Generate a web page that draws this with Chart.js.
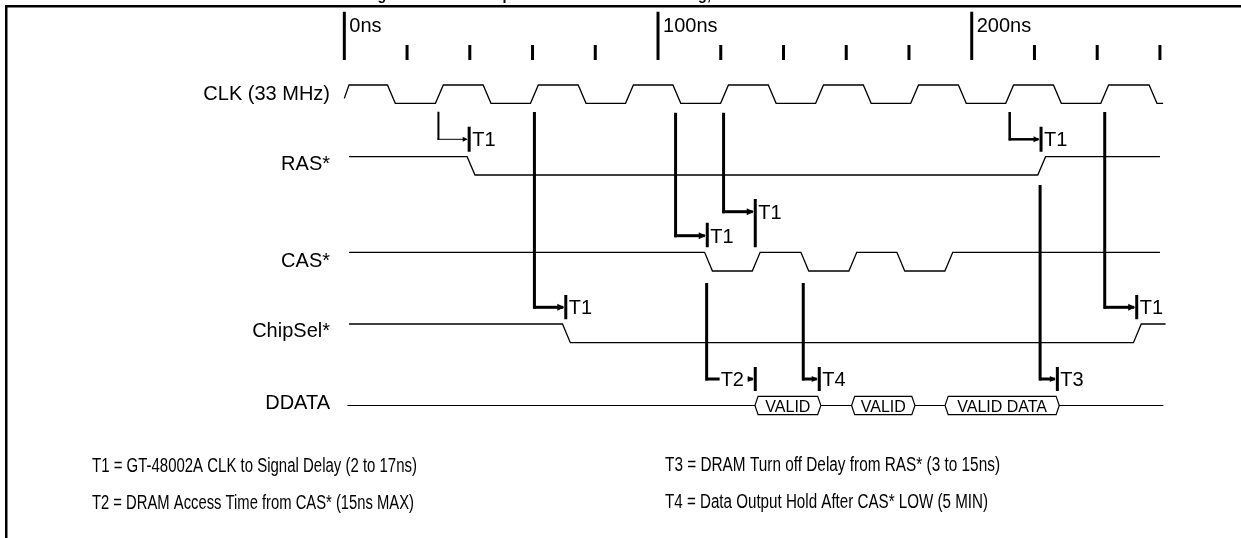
<!DOCTYPE html>
<html><head><meta charset="utf-8">
<script src="https://cdn.jsdelivr.net/npm/chart.js@4.4.1/dist/chart.umd.min.js"></script>
<style>html,body{margin:0;padding:0;background:#fff;overflow:hidden}</style>
</head><body>
<canvas id="c" width="1241" height="538"></canvas>
<script>
// ---------------- data (times in ns) ----------------
const tickMajor = [0, 100, 200];
const tickLabels = ['0ns', '100ns', '200ns'];
const tickMinor = [20, 40, 60, 80, 120, 140, 160, 180, 220, 240, 260];

const signalNames = ['CLK (33 MHz)', 'RAS*', 'CAS*', 'ChipSel*', 'DDATA'];

// CLK (edge mid-times)
const clkLead = [[0, 0.27], [1.5, 1]];
const clkFall = [15.0, 45.5, 75.8, 106.0, 136.4, 166.7, 197.0, 227.3, 257.8];
const clkRise = [30.3, 60.6, 90.9, 121.2, 151.5, 181.8, 212.1, 242.4];
const clkEnd = 261;

// RAS*
const rasStart = 1.5, rasFall = [40.4], rasRise = [222.3], rasEnd = 260;
// CAS*
const casStart = 1.5, casFall = [116.1, 146.8, 177.4], casRise = [131.3, 162.1, 192.7], casEnd = 260;
// ChipSel*
const csStart = 1.5, csFall = [70.8], csRise = [252.8], csEnd = 261.8;
// DDATA
const ddStart = 1.0, ddEnd = 261.1;
const boxStart = [130.9, 161.7, 191.5];
const boxEnd = [151.9, 181.9, 227.9];
const boxLabels = ['VALID', 'VALID', 'VALID DATA'];

// timing annotations
const annLabels = ['T1', 'T1', 'T1', 'T1', 'T1', 'T1', 'T2', 'T4', 'T3'];
const annFrom = [30.0, 60.6, 105.6, 120.9, 212.1, 242.4, 115.5, 146.3, 221.8];
const annTo = [39.8, 70.6, 115.7, 131.0, 222.1, 252.6, 131.0, 151.4, 227.3];

const notes = [
  'T1 = GT-48002A CLK to Signal Delay (2 to 17ns)',
  'T2 = DRAM Access Time from CAS* (15ns MAX)',
  'T3 = DRAM Turn off Delay from RAS* (3 to 15ns)',
  'T4 = Data Output Hold After CAS* LOW (5 MIN)'
];
const titleText = 'DRAM Read Timing Waveform Example - Burst Mode Read Timing, 33 MHz';

// ---------------- layout / style ----------------
const EDGE = 2.5;       // ns transition
const BOXSLOPE = 1.0;   // ns
const rows = [
  {hi: 85, lo: 103.3, label: 100.3},
  {hi: 156.7, lo: 175, label: 170},
  {hi: 252.3, lo: 271, label: 266.5},
  {hi: 324, lo: 342.7, label: 336.5},
  {mid: 405.5, half: 9.2, label: 409}
];
const annLayout = [
  {top: 111.7, arr: 139.3, b0: 126.7, b1: 151.7, wv: 2, wh: 1, head: 5},
  {top: 112, arr: 307.3, b0: 295, b1: 319.3, wv: 3, wh: 3, head: 7},
  {top: 112.7, arr: 235.7, b0: 222.7, b1: 247.3, wv: 3, wh: 3, head: 7},
  {top: 112.7, arr: 211.7, b0: 199, b1: 247.3, wv: 3, wh: 3, head: 7},
  {top: 112, arr: 139.3, b0: 126.7, b1: 151.7, wv: 2.5, wh: 2.5, head: 6},
  {top: 112, arr: 307.3, b0: 295, b1: 319.3, wv: 3, wh: 3, head: 7},
  {top: 283, arr: 379, b0: 367, b1: 391, wv: 3, wh: 3, head: 6, inline: true},
  {top: 283, arr: 379, b0: 367, b1: 391, wv: 3, wh: 3, head: 6},
  {top: 185, arr: 379, b0: 367, b1: 391, wv: 3, wh: 3, head: 6}
];
const noteLayout = [
  {x: 92, y: 471.5, w: 325}, {x: 92, y: 508.5, w: 322},
  {x: 665, y: 470.5, w: 335}, {x: 665, y: 507.5, w: 323}
];
const FONT = "'Liberation Sans', Arial, sans-serif";

// ---------------- builders ----------------
function lv(row, l) { return row.lo - l * (row.lo - row.hi); }
function mergeEdges(falls, rises) {
  return falls.map(t => [t, 0]).concat(rises.map(t => [t, 1])).sort((a, b) => a[0] - b[0]);
}
function wave(row, lead, edges, endT) {
  const pts = lead.map(([t, l]) => ({x: t, y: lv(row, l)}));
  let cur = lead[lead.length - 1][1];
  edges.forEach(([m, nl]) => {
    pts.push({x: m - EDGE / 2, y: lv(row, cur)});
    pts.push({x: m + EDGE / 2, y: lv(row, nl)});
    cur = nl;
  });
  pts.push({x: endT, y: lv(row, cur)});
  return pts;
}
function segs(list) { // list of [x0,y0,x1,y1]
  const out = [];
  list.forEach(s => { out.push({x: s[0], y: s[1]}, {x: s[2], y: s[3]}, {x: s[2], y: null}); });
  return out;
}
function lineDs(data, w) {
  return {data, showLine: true, borderColor: '#000', borderWidth: w, pointRadius: 0,
    tension: 0, spanGaps: false, borderCapStyle: 'butt', borderJoinStyle: 'miter', fill: false};
}

const datasets = [];
datasets.push(lineDs(segs(tickMajor.map(t => [t, 11.7, t, 60])), 3));
datasets.push(lineDs(segs(tickMinor.map(t => [t, 45, t, 60])), 3));
datasets.push(lineDs(wave(rows[0], clkLead, mergeEdges(clkFall, clkRise), clkEnd), 1.3));
datasets.push(lineDs(wave(rows[1], [[rasStart, 1]], mergeEdges(rasFall, rasRise), rasEnd), 1.3));
datasets.push(lineDs(wave(rows[2], [[casStart, 1]], mergeEdges(casFall, casRise), casEnd), 1.3));
datasets.push(lineDs(wave(rows[3], [[csStart, 1]], mergeEdges(csFall, csRise), csEnd), 1.3));
// DDATA
(function () {
  const r = rows[4], top = r.mid - r.half, bot = r.mid + r.half;
  const a = [{x: ddStart, y: r.mid}];
  const b = [];
  boxStart.forEach((s, i) => {
    const e = boxEnd[i];
    a.push({x: s, y: r.mid}, {x: s + BOXSLOPE, y: top}, {x: e - BOXSLOPE, y: top}, {x: e, y: r.mid});
    b.push({x: s, y: r.mid}, {x: s + BOXSLOPE, y: bot}, {x: e - BOXSLOPE, y: bot}, {x: e, y: r.mid}, {x: e, y: null});
  });
  a.push({x: ddEnd, y: r.mid});
  datasets.push(lineDs(a, 1.2));
  datasets.push(lineDs(b, 1.2));
})();
// annotations
annFrom.forEach((f, i) => {
  const L = annLayout[i], t = annTo[i];
  datasets.push(lineDs([{x: f, y: L.top}, {x: f, y: L.arr + L.wh / 2}], L.wv));
  datasets.push(lineDs([{x: f - 0.3, y: L.arr}, {x: t - 0.8, y: L.arr}], L.wh));
  datasets.push(lineDs([{x: t, y: L.b0}, {x: t, y: L.b1}], 3));
});

const timingPlugin = {
  id: 'timing',
  beforeDraw(chart) {
    const ctx = chart.ctx;
    ctx.save(); ctx.fillStyle = '#fff'; ctx.fillRect(0, 0, chart.width, chart.height); ctx.restore();
  },
  afterDatasetsDraw(chart) {
    const ctx = chart.ctx, xs = chart.scales.x, ys = chart.scales.y;
    const X = v => xs.getPixelForValue(v), Y = v => ys.getPixelForValue(v);
    ctx.save();
    ctx.fillStyle = '#000';
    // frame
    ctx.fillRect(5, 5, chart.width - 5, 2.5);
    ctx.fillRect(5, 5, 2.5, chart.height - 5);
    // title (cut off above the frame; only descenders show)
    ctx.font = 'bold 16px ' + FONT;
    ctx.textAlign = 'left'; ctx.textBaseline = 'alphabetic';
    ctx.fillText(titleText, 252, 0.3, 513);
    // tick labels
    ctx.font = '20px ' + FONT;
    tickMajor.forEach((t, i) => ctx.fillText(tickLabels[i], X(t) + 5, Y(31.7)));
    // row labels
    ctx.textAlign = 'right';
    signalNames.forEach((n, i) => ctx.fillText(n, 330, Y(rows[i].label)));
    // arrowheads and T labels
    ctx.textAlign = 'left';
    annTo.forEach((t, i) => {
      const L = annLayout[i];
      const tip = X(t) - 1.5, y = Y(L.arr), h = L.head;
      if (L.inline) {
        const x0 = X(annFrom[i]) + 12;
        ctx.fillStyle = '#fff';
        ctx.fillRect(x0 + 1, y - 4, tip - x0 - h - 1, 8);
        ctx.fillStyle = '#000';
        ctx.fillText(annLabels[i], x0 + 2, y + 7);
      } else {
        ctx.fillText(annLabels[i], X(t) + 3, y + 7);
      }
      ctx.beginPath();
      ctx.moveTo(tip, y);
      ctx.lineTo(tip - h, y - h * 0.5);
      ctx.lineTo(tip - h, y + h * 0.5);
      ctx.closePath();
      ctx.fill();
    });
    // box labels
    ctx.font = '16px ' + FONT;
    ctx.textAlign = 'center';
    boxLabels.forEach((s, i) => ctx.fillText(s, (X(boxStart[i]) + X(boxEnd[i])) / 2, Y(rows[4].mid) + 6));
    // notes
    ctx.font = '19.5px ' + FONT;
    ctx.textAlign = 'left';
    notes.forEach((s, i) => ctx.fillText(s, noteLayout[i].x, noteLayout[i].y, noteLayout[i].w));
    ctx.restore();
  }
};

new Chart(document.getElementById('c'), {
  type: 'scatter',
  data: {datasets},
  options: {
    responsive: false, animation: false, devicePixelRatio: 1,
    layout: {padding: 0},
    plugins: {legend: {display: false}, tooltip: {enabled: false}},
    scales: {
      x: {type: 'linear', min: -109.76, max: 285.84, display: false},
      y: {type: 'linear', min: 0, max: 538, reverse: true, display: false}
    },
    elements: {line: {clip: false}}
  },
  plugins: [timingPlugin]
});
</script>
</body></html>
